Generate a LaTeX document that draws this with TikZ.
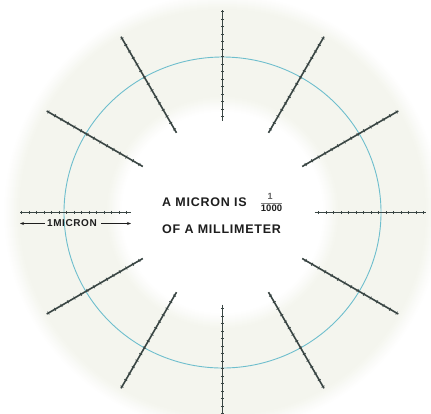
\documentclass[tikz,border=0pt]{standalone}
\usepackage{fontspec}
\setmainfont{Liberation Sans}
\newfontfamily\labfont[LetterSpace=6]{Liberation Sans}
\usetikzlibrary{calc,arrows.meta}
\definecolor{raycolor}{RGB}{58,70,68}
\definecolor{bgtone}{RGB}{244,245,238}
\definecolor{ringcolor}{RGB}{110,190,205}
\definecolor{txtcolor}{RGB}{30,30,30}
\definecolor{fracline}{RGB}{130,130,130}
\begin{document}
\begin{tikzpicture}[x=1pt,y=-1pt,
  rayline/.style={draw=raycolor,line width=1.6pt},
  tickline/.style={draw=raycolor,line width=0.7pt},
  labtext/.style={font=\labfont\bfseries\fontsize{12.5}{14}\selectfont,text=txtcolor,inner sep=0pt}]
\useasboundingbox (0,0) rectangle (431,413);
\fill[white] (0,0) rectangle (431,413);
\coordinate (c) at (222.5,212.5);
% soft outer edge of the pale disk
\foreach \i in {0,...,15}{
  \pgfmathsetmacro{\rr}{218-\i}
  \pgfmathsetmacro{\pp}{(\i+1)*6.25}
  \fill[bgtone!\pp!white] (c) circle[radius=\rr];
}
% soft inner edge fading to white
\foreach \i in {0,...,15}{
  \pgfmathsetmacro{\rr}{116-\i}
  \pgfmathsetmacro{\pp}{100-(\i+1)*6.25}
  \fill[bgtone!\pp!white] (c) circle[radius=\rr];
}
\draw[ringcolor,line width=0.9pt] (c) ellipse[x radius=158.5,y radius=155.5];
\foreach \a in {0,30,...,330}{
  \draw[rayline] ($(c)+(\a:92)$) -- ($(c)+(\a:203)$);
  \foreach \r in {96,103.5,...,201}{
    \draw[tickline] ($(c)+(\a:\r)+(\a+90:1.7)$) -- ($(c)+(\a:\r)+(\a-90:1.7)$);
  }
}
\node[labtext,anchor=base west] (l1) at (162,206) {A MICRON IS};
\node[labtext,font=\bfseries\fontsize{9.5}{10}\selectfont,anchor=north] (den) at (271.5,205) {1000};
\node[labtext,font=\bfseries\fontsize{9}{10}\selectfont,text=txtcolor!70,anchor=south] (num) at (270,200) {1};
\draw[line width=0.4pt,fracline] ($(den.north west)+(0,-2)$) -- ($(den.north east)+(0,-2)$);
\node[labtext,anchor=base west] (l2) at (162,233) {OF A MILLIMETER};
\node[labtext,font=\labfont\bfseries\fontsize{10}{11}\selectfont] (mic) at (72,223.5) {1MICRON};
\coordinate (al) at (20,223.5);
\coordinate (ar) at (131,223.5);
\draw[-{Stealth[length=4pt]},line width=1.1pt,txtcolor] (mic.west) ++(-2,0) -- (al);
\draw[-{Stealth[length=4pt]},line width=0.7pt,txtcolor] (mic.east) ++(4,0) -- (ar);
\end{tikzpicture}
\end{document}
